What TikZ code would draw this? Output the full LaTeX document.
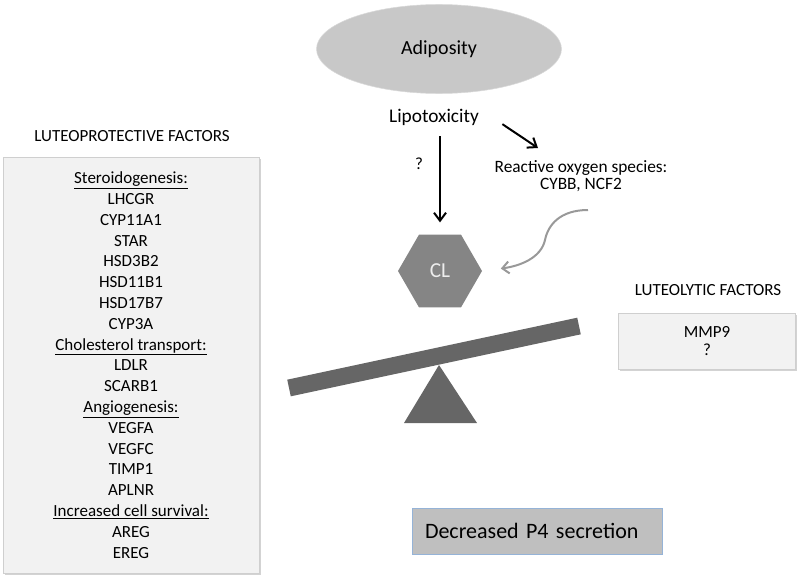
\documentclass[tikz,border=0pt]{standalone}
\usepackage{fontspec}
\setmainfont{Carlito}
\usepackage{xcolor}
\usepackage{tikz}
\usetikzlibrary{calc,shapes.geometric,arrows.meta,shadows}
\definecolor{ellgray}{HTML}{C8C8C8}
\definecolor{hexgray}{HTML}{858585}
\definecolor{beamgray}{HTML}{666666}
\definecolor{boxfill}{HTML}{F2F2F2}
\definecolor{boxline}{HTML}{CFCFCF}
\definecolor{p4fill}{HTML}{BFBFBF}
\definecolor{p4line}{HTML}{95B3D7}
\definecolor{curvegray}{HTML}{999999}
\tikzset{
	arr/.style={line width=1.5pt,-{Straight Barb[length=6pt,width=9pt]}},
	softarr/.style={curvegray,line width=1.5pt,-{Straight Barb[length=5pt,width=9pt]}},
	factorbox/.style={draw=boxline,fill=boxfill,inner sep=0pt,
		drop shadow={shadow xshift=1.2pt,shadow yshift=-1.2pt,opacity=0.35}},
	txt/.style={font=\fontsize{12.75}{15.6}\selectfont,inner sep=0pt},
}
\begin{document}
\begin{tikzpicture}[x=0.75pt,y=-0.75pt]
			\def\lw{12.75pt}
			\useasboundingbox (0,0) rectangle (800,578);
			\node[ellipse,fill=ellgray,draw=ellgray!70,inner sep=0pt,outer sep=0pt,
				minimum width=245*0.75pt,minimum height=89*0.75pt,
				font=\fontsize{15}{18}\selectfont] (adipo) at (439,49) {Adiposity};
			\node[txt,font=\fontsize{14.5}{17}\selectfont] (lipo) at (434,117) {Lipotoxicity};
			\node[txt,align=center,font=\fontsize{13}{12.75}\selectfont] (ros) at (581,176)
				{Reactive oxygen species:\\CYBB, NCF2};
			\node[regular polygon,regular polygon sides=6,fill=hexgray,inner sep=0pt,minimum size=84*0.75pt,
				text=white!93!black,font=\fontsize{16}{19}\selectfont] (cl) at (440,271) {CL};
			\node[txt] (q) at (419,164) {?};
			\coordinate (rosin) at (538,148);
			\coordinate (rosout) at (588,210);
			\draw[arr,shorten <=8pt,shorten >=9pt] (lipo.south -| cl.north) -- (cl.north);
			\draw[arr,shorten <=21pt] (lipo.north east) -- (rosin);
			\draw[softarr,shorten >=14pt] (rosout) .. controls (560,210) and (548,225) .. (545,240)
				.. controls (541,258) and (520,266) .. (cl.east);
			\coordinate (beamL) at (289,388);
			\coordinate (beamR) at (579,326);
			\draw[beamgray,line width=\lw] (beamL) -- (beamR);
			\fill[beamgray] (439,365) -- (404,423) -- (477,423) -- cycle;
			\node[txt] (protect) at (132,136) {LUTEOPROTECTIVE FACTORS};
			\node[factorbox,txt,align=center,minimum width=256*0.75pt,minimum height=416*0.75pt] (protectbox) at (131,365)
				{\underline{Steroidogenesis:}\\LHCGR\\CYP11A1\\STAR\\HSD3B2\\HSD11B1\\HSD17B7\\CYP3A\\
				\underline{Cholesterol transport:}\\LDLR\\SCARB1\\\underline{Angiogenesis:}\\VEGFA\\VEGFC\\TIMP1\\APLNR\\
				\underline{Increased cell survival:}\\AREG\\EREG};
			\node[txt] (lytic) at (708,290) {LUTEOLYTIC FACTORS};
			\node[factorbox,txt,align=center,font=\fontsize{12.75}{13.5}\selectfont,
				minimum width=177*0.75pt,minimum height=56*0.75pt] (lyticbox) at (707,341) {MMP9\\?};
			\node[draw=p4line,fill=p4fill,inner xsep=13*0.75pt,inner ysep=0pt,text width=224*0.75pt,align=left,
				minimum height=46*0.75pt,font=\fontsize{16.5}{19}\selectfont] (p4) at (537,531) {Decreased P4 secretion};
		\end{tikzpicture}
\end{document}
